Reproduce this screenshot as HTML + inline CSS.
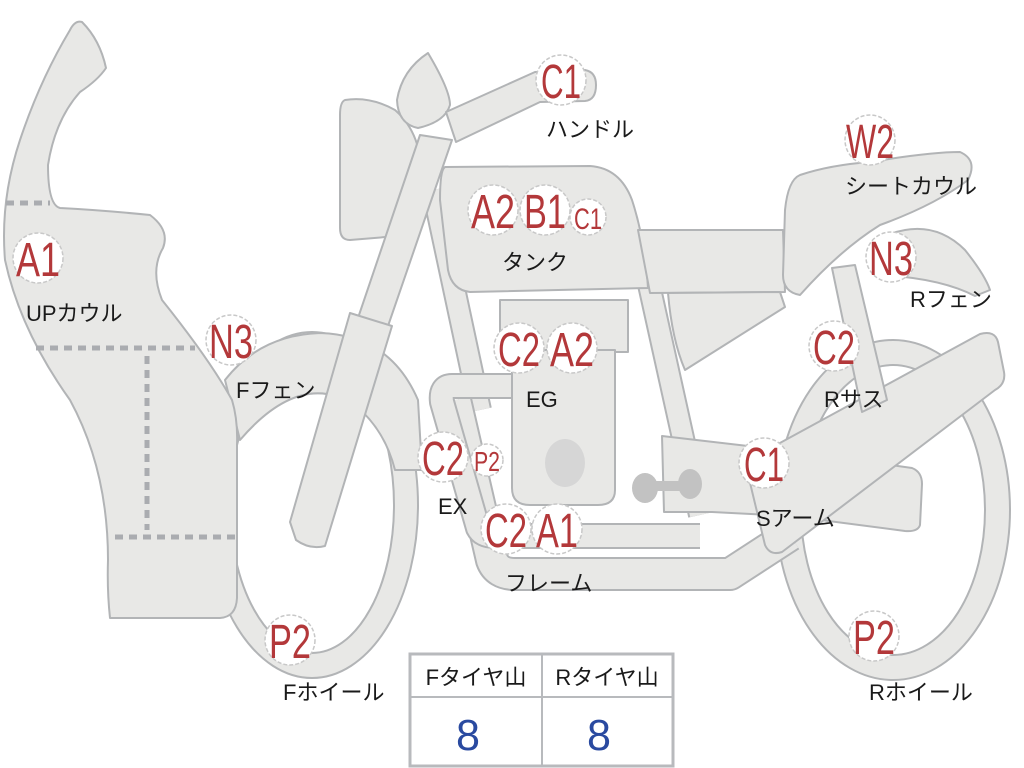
<!DOCTYPE html>
<html><head><meta charset="utf-8"><style>
html,body{margin:0;padding:0;background:#fff;}
svg{display:block;}
.s{fill:#e8e8e6;stroke:#b2b4b6;stroke-width:2;stroke-linejoin:round;}
.bo{fill:none;stroke:#b2b4b6;stroke-linejoin:round;stroke-linecap:butt;}
.bi{fill:none;stroke:#e8e8e6;stroke-linejoin:round;stroke-linecap:butt;}
.c{fill:#fff;stroke:#c8c8c8;stroke-width:1.5;stroke-dasharray:4 2;}
.r{fill:#b3383a;font-family:"Liberation Sans",sans-serif;}
.l{fill:#1a1a1a;font-family:"Liberation Sans","Noto Sans CJK JP",sans-serif;font-size:22px;}
</style></head><body>
<svg width="1024" height="768" viewBox="0 0 1024 768" xmlns="http://www.w3.org/2000/svg">
<!-- wheels -->
<ellipse class="s" cx="312" cy="505" rx="106" ry="173"/>
<ellipse cx="312" cy="505" rx="82" ry="148" fill="#fff" stroke="#b2b4b6" stroke-width="2"/>
<ellipse class="s" cx="893" cy="510" rx="117" ry="170"/>
<ellipse cx="893" cy="510" rx="92" ry="145" fill="#fff" stroke="#b2b4b6" stroke-width="2"/>
<!-- front fender -->
<path class="s" d="M225,380 Q260,335 320,333 Q390,335 418,400 L422,470 L395,470 Q385,430 355,405 Q300,370 240,440 Z"/>
<!-- frame tubes -->
<path class="bo" stroke-width="24" d="M433,190 L480,410"/><path class="bi" stroke-width="20" d="M433,190 L480,410"/>
<path class="bo" stroke-width="24" d="M648,280 L700,515"/><path class="bi" stroke-width="20" d="M648,280 L700,515"/>
<path class="bo" stroke-width="34" d="M455,400 L492,560 Q497,574 515,574 L730,574 L790,535"/>
<path class="bi" stroke-width="30" d="M455,400 L492,560 Q497,574 515,574 L730,574 L790,535"/>
<path class="bo" stroke-width="26" d="M515,386 L452,386 Q440,386 442,402 L478,528 Q482,536 495,536 L700,536"/>
<path class="bi" stroke-width="22" d="M515,386 L452,386 Q440,386 442,402 L478,528 Q482,536 495,536 L700,536"/>
<!-- engine -->
<rect class="s" x="500" y="300" width="128" height="52"/>
<path class="s" d="M512,350 L615,350 L615,490 Q615,505 598,505 L530,505 Q512,505 512,488 Z"/>
<ellipse cx="565" cy="463" rx="20" ry="24" fill="#d6d6d6"/>
<!-- pivot plate -->
<path class="s" d="M662,436 L800,452 L912,468 Q922,472 922,484 L920,525 Q918,532 905,531 L790,516 L712,512 L664,512 Z"/>
<g fill="#c2c2c2"><ellipse cx="645" cy="488" rx="13" ry="15"/><ellipse cx="690" cy="484" rx="12" ry="15"/><rect x="645" y="481" width="45" height="10"/></g>
<!-- swingarm -->
<path class="s" d="M745,462 L980,334 Q995,330 998,342 L1004,372 Q1006,384 995,390 L782,552 Q770,556 765,545 Z"/>
<!-- rear shock -->
<path class="s" d="M832,268 L855,265 L887,400 L862,412 Z"/>
<!-- headlight & meter -->
<path class="s" d="M345,100 Q370,96 395,110 Q418,130 421,165 Q420,205 398,236 L350,240 Q340,240 340,228 L340,115 Q340,102 345,100 Z"/>
<!-- fork -->
<path class="s" d="M358,318 L420,135 L452,140 L388,326 Z"/>
<path class="s" d="M290,522 L350,313 L392,326 L325,546 Q310,550 296,540 Z"/>
<path class="s" d="M428,53 Q450,90 450,105 Q445,122 418,128 Q398,124 397,100 Q402,70 428,53 Z"/>
<!-- handlebar -->
<path class="s" d="M446,112 L535,72 L585,70 Q596,72 596,85 Q596,100 585,101 L540,102 L456,142 Z"/>
<!-- tank -->
<path class="s" d="M445,167 L590,166 Q620,168 632,200 Q645,240 648,288 L470,292 Q452,290 448,270 L440,200 Q440,170 445,167 Z"/>
<!-- seat -->
<path class="s" d="M638,230 L783,230 L785,292 L650,293 Z"/>
<path class="s" d="M668,293 L780,292 L785,307 L685,370 Q672,340 668,293 Z"/>
<!-- rear fender -->
<path class="s" d="M880,238 Q930,215 965,250 Q985,275 990,290 L975,296 Q940,278 880,275 Z"/>
<!-- seat cowl -->
<path class="s" d="M800,175 Q830,165 870,162 Q930,152 960,152 Q978,160 968,180 Q935,205 880,225 Q840,250 800,295 Q783,292 783,275 L785,210 Q788,180 800,175 Z"/>
<!-- upper cowl -->
<path class="s" d="M82,22 Q100,40 106,68 Q98,80 80,92 Q55,120 48,165 Q48,205 60,208 Q100,210 150,215 Q170,230 163,248 Q150,270 162,300 Q210,360 232,400 Q238,420 237,445 L237,598 Q236,617 220,618 L110,618 Q107,590 108,560 Q108,470 70,400 Q20,330 5,260 Q0,200 20,140 Q40,80 70,30 Q75,20 82,22 Z"/>
<g stroke="#aaacb0" stroke-width="5" stroke-dasharray="8 6" fill="none">
<path d="M6,203 L50,203"/><path d="M36,348 L195,348"/><path d="M147,356 L147,530"/><path d="M115,537 L235,537"/>
</g>
<!-- circles -->
<g>
<circle class="c" cx="561" cy="80" r="25"/><text class="r" x="561" y="98" text-anchor="middle" font-size="48" textLength="40" lengthAdjust="spacingAndGlyphs">C1</text>
<circle class="c" cx="493" cy="210" r="25"/><text class="r" x="493" y="228" text-anchor="middle" font-size="48" textLength="44" lengthAdjust="spacingAndGlyphs">A2</text>
<circle class="c" cx="545" cy="210" r="25"/><text class="r" x="545" y="228" text-anchor="middle" font-size="48" textLength="42" lengthAdjust="spacingAndGlyphs">B1</text>
<circle class="c" cx="588" cy="217" r="18"/><text class="r" x="588" y="229" text-anchor="middle" font-size="30" textLength="28" lengthAdjust="spacingAndGlyphs">C1</text>
<circle class="c" cx="870" cy="140" r="25"/><text class="r" x="870" y="158" text-anchor="middle" font-size="48" textLength="48" lengthAdjust="spacingAndGlyphs">W2</text>
<circle class="c" cx="891" cy="257" r="25"/><text class="r" x="891" y="275" text-anchor="middle" font-size="48" textLength="44" lengthAdjust="spacingAndGlyphs">N3</text>
<circle class="c" cx="38" cy="258" r="25"/><text class="r" x="38" y="276" text-anchor="middle" font-size="48" textLength="44" lengthAdjust="spacingAndGlyphs">A1</text>
<circle class="c" cx="231" cy="340" r="25"/><text class="r" x="231" y="358" text-anchor="middle" font-size="48" textLength="44" lengthAdjust="spacingAndGlyphs">N3</text>
<circle class="c" cx="519" cy="348" r="25"/><text class="r" x="519" y="366" text-anchor="middle" font-size="48" textLength="42" lengthAdjust="spacingAndGlyphs">C2</text>
<circle class="c" cx="572" cy="348" r="25"/><text class="r" x="572" y="366" text-anchor="middle" font-size="48" textLength="44" lengthAdjust="spacingAndGlyphs">A2</text>
<circle class="c" cx="443" cy="457" r="25"/><text class="r" x="443" y="475" text-anchor="middle" font-size="48" textLength="42" lengthAdjust="spacingAndGlyphs">C2</text>
<circle class="c" cx="487" cy="460" r="16"/><text class="r" x="487" y="471" text-anchor="middle" font-size="28" textLength="26" lengthAdjust="spacingAndGlyphs">P2</text>
<circle class="c" cx="506" cy="529" r="25"/><text class="r" x="506" y="547" text-anchor="middle" font-size="48" textLength="42" lengthAdjust="spacingAndGlyphs">C2</text>
<circle class="c" cx="557" cy="529" r="25"/><text class="r" x="557" y="547" text-anchor="middle" font-size="48" textLength="42" lengthAdjust="spacingAndGlyphs">A1</text>
<circle class="c" cx="834" cy="346" r="25"/><text class="r" x="834" y="364" text-anchor="middle" font-size="48" textLength="42" lengthAdjust="spacingAndGlyphs">C2</text>
<circle class="c" cx="764" cy="463" r="25"/><text class="r" x="764" y="481" text-anchor="middle" font-size="48" textLength="40" lengthAdjust="spacingAndGlyphs">C1</text>
<circle class="c" cx="290" cy="640" r="25"/><text class="r" x="290" y="658" text-anchor="middle" font-size="48" textLength="42" lengthAdjust="spacingAndGlyphs">P2</text>
<circle class="c" cx="874" cy="636" r="25"/><text class="r" x="874" y="654" text-anchor="middle" font-size="48" textLength="42" lengthAdjust="spacingAndGlyphs">P2</text>
</g>
<!-- labels -->
<g class="l">
<text x="546" y="137">ハンドル</text>
<text x="502" y="270">タンク</text>
<text x="845" y="194">シートカウル</text>
<text x="910" y="307">Rフェン</text>
<text x="26" y="321">UPカウル</text>
<text x="236" y="398">Fフェン</text>
<text x="526" y="407">EG</text>
<text x="438" y="514">EX</text>
<text x="505" y="591">フレーム</text>
<text x="824" y="407">Rサス</text>
<text x="756" y="526">Sアーム</text>
<text x="283" y="700">Fホイール</text>
<text x="869" y="700">Rホイール</text>
</g>
<!-- table -->
<rect x="410" y="654" width="263" height="112" fill="#fff" stroke="#b8babd" stroke-width="3"/>
<line x1="410" y1="697" x2="673" y2="697" stroke="#b8babd" stroke-width="2"/>
<line x1="542" y1="654" x2="542" y2="766" stroke="#b8babd" stroke-width="2"/>
<g class="l"><text x="476" y="685" text-anchor="middle">Fタイヤ山</text><text x="607" y="685" text-anchor="middle">Rタイヤ山</text></g>
<g fill="#2a4aa0" font-family="'Liberation Sans',sans-serif" font-size="44" text-anchor="middle">
<text x="468" y="750" textLength="24" lengthAdjust="spacingAndGlyphs">8</text><text x="599" y="750" textLength="24" lengthAdjust="spacingAndGlyphs">8</text></g>
</svg>
</body></html>
